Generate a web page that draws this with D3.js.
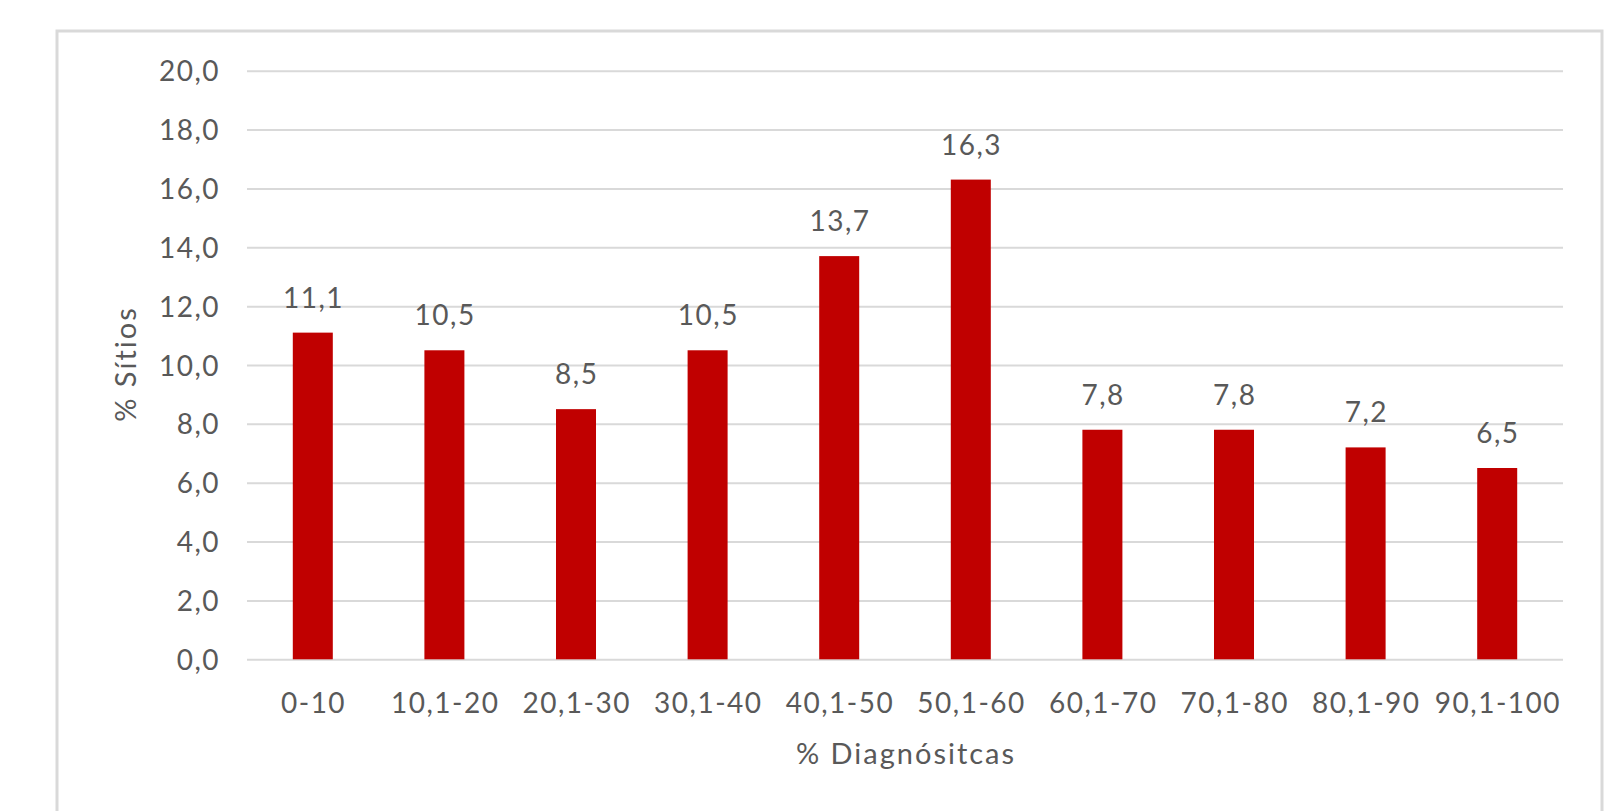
<!DOCTYPE html>
<html>
<head>
<meta charset="utf-8">
<script src="https://cdn.jsdelivr.net/npm/d3@7"></script>
<style>
  html, body { margin: 0; padding: 0; background: #ffffff; }
  svg { display: block; }
  text { font-family: Lato, "Open Sans", sans-serif; fill: #595959; }
</style>
</head>
<body>
<svg id="chart" width="1608" height="811"></svg>
<script>
const categories = ["0-10", "10,1-20", "20,1-30", "30,1-40", "40,1-50", "50,1-60", "60,1-70", "70,1-80", "80,1-90", "90,1-100"];
const values = [11.1, 10.5, 8.5, 10.5, 13.7, 16.3, 7.8, 7.8, 7.2, 6.5];
const yTicks = [0, 2, 4, 6, 8, 10, 12, 14, 16, 18, 20];
const xTitle = "% Diagnósitcas";
const yTitle = "% Sítios";

const svg = d3.select("#chart");
const plot = { left: 247, right: 1563, top: 70.7, bottom: 659.3 };
const fmt = v => v.toFixed(1).replace(".", ",");
const LS = 1.5;

// outer chart border
svg.append("rect")
  .attr("x", 57).attr("y", 31)
  .attr("width", 1602 - 57).attr("height", 830 - 31)
  .attr("fill", "#ffffff")
  .attr("stroke", "#d9d9d9").attr("stroke-width", 3);

const x = d3.scaleBand()
  .domain(categories)
  .range([plot.left, plot.right])
  .paddingInner(0.696)
  .paddingOuter(0.348);

const y = d3.scaleLinear()
  .domain([0, 20])
  .range([plot.bottom, plot.top]);

// gridlines + y tick labels
const yAxis = d3.axisLeft(y)
  .tickValues(yTicks)
  .tickSize(-(plot.right - plot.left))
  .tickFormat(fmt)
  .tickPadding(27);

const gy = svg.append("g")
  .attr("transform", `translate(${plot.left},0)`)
  .call(yAxis);
gy.select(".domain").remove();
gy.selectAll(".tick line").attr("stroke", "#d9d9d9").attr("stroke-width", 2);
gy.selectAll(".tick text")
  .attr("fill", "#595959")
  .style("font-size", "28px")
  .style("letter-spacing", LS + "px")
  .style("font-family", "Lato, 'Open Sans', sans-serif")
  .attr("dy", "0.36em");

// x axis labels
const xAxis = d3.axisBottom(x).tickSize(0).tickPadding(0);
const gx = svg.append("g")
  .attr("transform", `translate(0,${plot.bottom})`)
  .call(xAxis);
gx.select(".domain").remove();
gx.selectAll(".tick text")
  .attr("fill", "#595959")
  .style("font-size", "28px")
  .style("letter-spacing", LS + "px")
  .style("font-family", "Lato, 'Open Sans', sans-serif")
  .attr("x", LS / 2)
  .attr("y", 54)
  .attr("dy", 0);

// bars
svg.append("g").selectAll("rect")
  .data(values)
  .join("rect")
  .attr("x", (d, i) => x(categories[i]))
  .attr("width", x.bandwidth())
  .attr("y", d => y(d))
  .attr("height", d => y(0) - y(d))
  .attr("fill", "#c00000");

// data labels
svg.append("g").selectAll("text")
  .data(values)
  .join("text")
  .attr("x", (d, i) => x(categories[i]) + x.bandwidth() / 2 + LS / 2)
  .attr("y", d => y(d) - 25)
  .attr("text-anchor", "middle")
  .style("font-size", "28px")
  .style("letter-spacing", LS + "px")
  .text(d => fmt(d));

// axis titles
svg.append("text")
  .attr("x", (plot.left + plot.right) / 2 + 1)
  .attr("y", 764)
  .attr("text-anchor", "middle")
  .style("font-size", "29px")
  .style("letter-spacing", "2px")
  .text(xTitle);

svg.append("text")
  .attr("transform", `translate(136,${(plot.top + plot.bottom) / 2 - 1}) rotate(-90)`)
  .attr("text-anchor", "middle")
  .style("font-size", "29px")
  .style("letter-spacing", "2px")
  .text(yTitle);
</script>
</body>
</html>
